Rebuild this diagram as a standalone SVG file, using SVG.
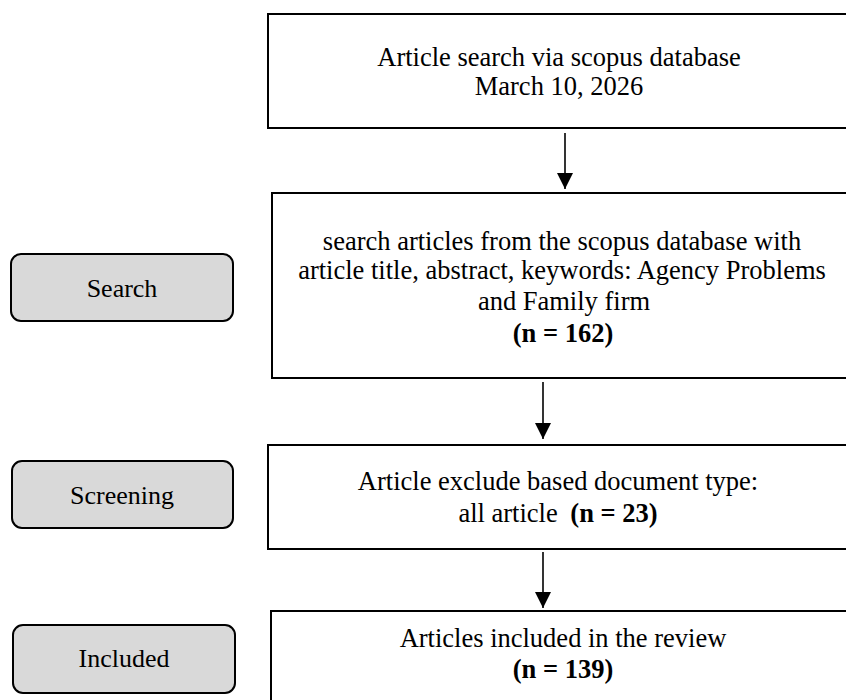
<svg xmlns="http://www.w3.org/2000/svg" width="846" height="700" viewBox="0 0 846 700">
<defs>
<style>
.box{fill:#fff;stroke:#000;stroke-width:2}
.stage{fill:#d9d9d9;stroke:#000;stroke-width:2}
text{font-family:"Liberation Serif","Times New Roman",serif;font-size:26.5px;fill:#000;text-anchor:middle}
.lbl{font-size:26px}
.b{font-weight:bold}
.conn{stroke:#000;stroke-width:1.6;fill:none}
</style>
<marker id="ah" viewBox="0 0 16 16" refX="16" refY="8" markerWidth="16" markerHeight="16" markerUnits="userSpaceOnUse" orient="auto">
<path d="M0,0 L16,8 L0,16 Z" fill="#000"/>
</marker>
</defs>
<rect width="846" height="700" fill="#fff"/>
<g id="node-start">
<rect class="box" x="268" y="14" width="590" height="114"/>
<text x="559" y="66">Article search via scopus database</text>
<text x="559" y="95">March 10, 2026</text>
</g>
<g id="node-search">
<rect class="box" x="272" y="193" width="586" height="185"/>
<text x="562" y="250">search articles from the scopus database with</text>
<text x="562" y="279">article title, abstract, keywords: Agency Problems</text>
<text x="564" y="310">and Family firm</text>
<text x="563" y="342" class="b">(n = 162)</text>
</g>
<g id="node-screen">
<rect class="box" x="268" y="445" width="590" height="104"/>
<text x="558" y="490">Article exclude based document type:</text>
<text x="558" y="522">all article <tspan class="b" dx="6">(n = 23)</tspan></text>
</g>
<g id="node-included">
<rect class="box" x="271" y="611" width="590" height="100"/>
<text x="563" y="647">Articles included in the review</text>
<text x="563" y="678" class="b">(n = 139)</text>
</g>
<g id="stage-search">
<rect class="stage" x="11" y="254" width="222" height="67" rx="10"/>
<text class="lbl" x="122" y="297">Search</text>
</g>
<g id="stage-screening">
<rect class="stage" x="12" y="461" width="221" height="67" rx="10"/>
<text class="lbl" x="122" y="504">Screening</text>
</g>
<g id="stage-included">
<rect class="stage" x="13" y="625" width="222" height="68" rx="10"/>
<text class="lbl" x="124" y="667">Included</text>
</g>
<g id="connectors">
<line class="conn" x1="565" y1="133" x2="565" y2="189" marker-end="url(#ah)"/>
<line class="conn" x1="543" y1="382" x2="543" y2="439" marker-end="url(#ah)"/>
<line class="conn" x1="543" y1="552" x2="543" y2="608" marker-end="url(#ah)"/>
</g>
</svg>
